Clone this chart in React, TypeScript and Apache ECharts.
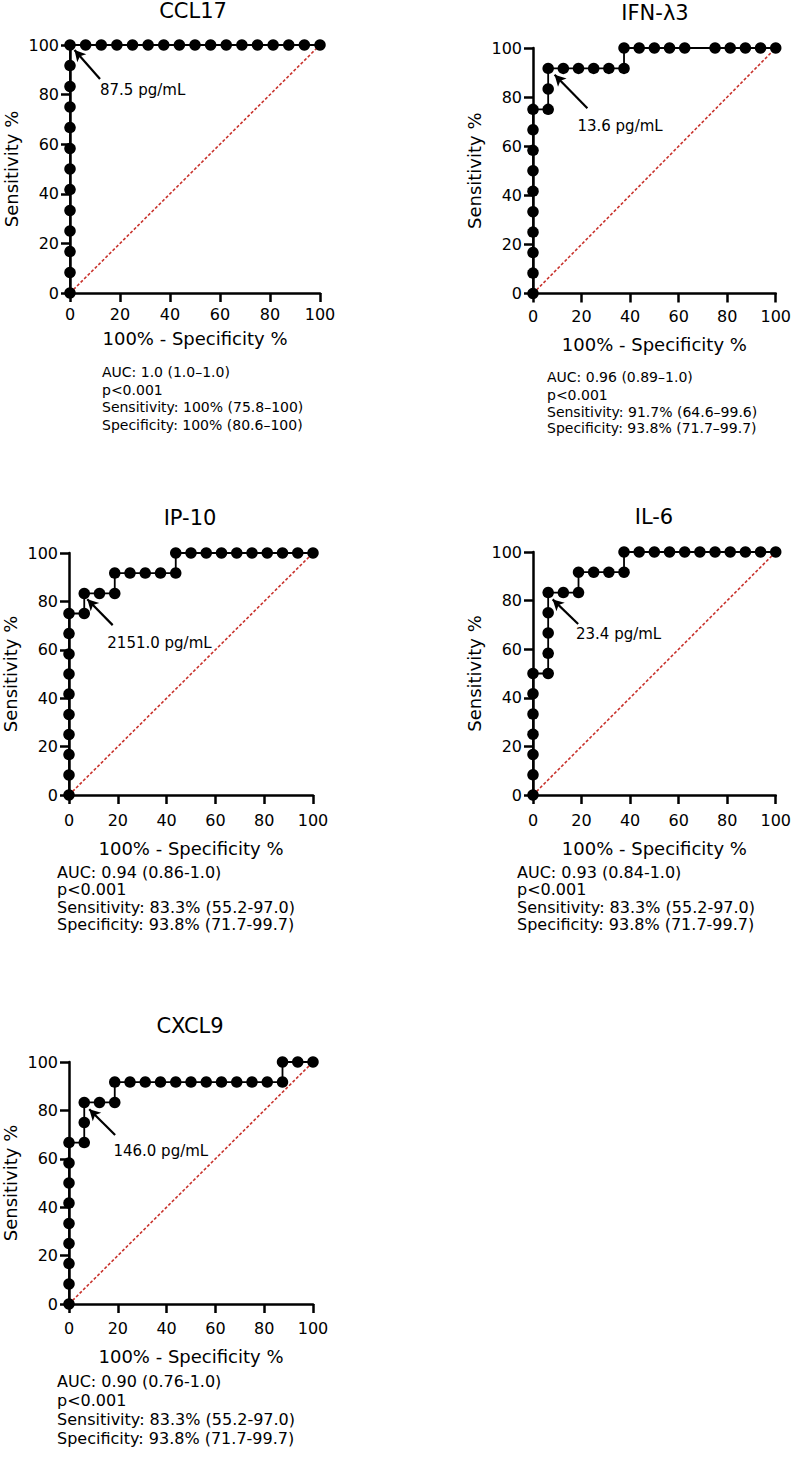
import React, { useEffect, useRef } from "react";
import * as echarts from "echarts";

// ---------- data ----------
const panelTitles = ["CCL17", "IFN-λ3", "IP-10", "IL-6", "CXCL9"];
const cutoffLabels = ["87.5 pg/mL", "13.6 pg/mL", "2151.0 pg/mL", "23.4 pg/mL", "146.0 pg/mL"];

const ccl17Fpr = [0, 0, 0, 0, 0, 0, 0, 0, 0, 0, 0, 0, 0, 6.25, 12.5, 18.75, 25, 31.25, 37.5, 43.75, 50, 56.25, 62.5, 68.75, 75, 81.25, 87.5, 93.75, 100];
const ccl17Tpr = [0, 8.3, 16.7, 25, 33.3, 41.7, 50, 58.3, 66.7, 75, 83.3, 91.7, 100, 100, 100, 100, 100, 100, 100, 100, 100, 100, 100, 100, 100, 100, 100, 100, 100];

const ifnFpr = [0, 0, 0, 0, 0, 0, 0, 0, 0, 0, 6.25, 6.25, 6.25, 12.5, 18.75, 25, 31.25, 37.5, 37.5, 43.75, 50, 56.25, 62.5, 75, 81.25, 87.5, 93.75, 100];
const ifnTpr = [0, 8.3, 16.7, 25, 33.3, 41.7, 50, 58.3, 66.7, 75, 75, 83.3, 91.7, 91.7, 91.7, 91.7, 91.7, 91.7, 100, 100, 100, 100, 100, 100, 100, 100, 100, 100];

const ip10Fpr = [0, 0, 0, 0, 0, 0, 0, 0, 0, 0, 6.25, 6.25, 12.5, 18.75, 18.75, 25, 31.25, 37.5, 43.75, 43.75, 50, 56.25, 62.5, 68.75, 75, 81.25, 87.5, 93.75, 100];
const ip10Tpr = [0, 8.3, 16.7, 25, 33.3, 41.7, 50, 58.3, 66.7, 75, 75, 83.3, 83.3, 83.3, 91.7, 91.7, 91.7, 91.7, 91.7, 100, 100, 100, 100, 100, 100, 100, 100, 100, 100];

const il6Fpr = [0, 0, 0, 0, 0, 0, 0, 6.25, 6.25, 6.25, 6.25, 6.25, 12.5, 18.75, 18.75, 25, 31.25, 37.5, 37.5, 43.75, 50, 56.25, 62.5, 68.75, 75, 81.25, 87.5, 93.75, 100];
const il6Tpr = [0, 8.3, 16.7, 25, 33.3, 41.7, 50, 50, 58.3, 66.7, 75, 83.3, 83.3, 83.3, 91.7, 91.7, 91.7, 91.7, 100, 100, 100, 100, 100, 100, 100, 100, 100, 100, 100];

const cxcl9Fpr = [0, 0, 0, 0, 0, 0, 0, 0, 0, 6.25, 6.25, 6.25, 12.5, 18.75, 18.75, 25, 31.25, 37.5, 43.75, 50, 56.25, 62.5, 68.75, 75, 81.25, 87.5, 87.5, 93.75, 100];
const cxcl9Tpr = [0, 8.3, 16.7, 25, 33.3, 41.7, 50, 58.3, 66.7, 66.7, 75, 83.3, 83.3, 83.3, 91.7, 91.7, 91.7, 91.7, 91.7, 91.7, 91.7, 91.7, 91.7, 91.7, 91.7, 91.7, 100, 100, 100];

const fprSets = [ccl17Fpr, ifnFpr, ip10Fpr, il6Fpr, cxcl9Fpr];
const tprSets = [ccl17Tpr, ifnTpr, ip10Tpr, il6Tpr, cxcl9Tpr];

// annotation anchors in data units (x = 100% - specificity, y = sensitivity)
const arrowTails = [[12, 86.3], [22.4, 75.5], [17.9, 70.2], [18.6, 70.4], [18.9, 69.8]];
const arrowTips = [[1.8, 98.0], [8.9, 89.1], [7.5, 80.9], [8.1, 80.5], [8.3, 80.5]];
const labelAnchors = [[12, 81.9], [18.3, 68.3], [15.7, 62.9], [17.7, 66.3], [18.2, 63.3]];

const statsLines = [
  ["AUC: 1.0 (1.0–1.0)", "p<0.001", "Sensitivity: 100% (75.8–100)", "Specificity: 100% (80.6–100)"],
  ["AUC: 0.96 (0.89–1.0)", "p<0.001", "Sensitivity: 91.7% (64.6–99.6)", "Specificity: 93.8% (71.7–99.7)"],
  ["AUC: 0.94 (0.86-1.0)", "p<0.001", "Sensitivity: 83.3% (55.2-97.0)", "Specificity: 93.8% (71.7-99.7)"],
  ["AUC: 0.93 (0.84-1.0)", "p<0.001", "Sensitivity: 83.3% (55.2-97.0)", "Specificity: 93.8% (71.7-99.7)"],
  ["AUC: 0.90 (0.76-1.0)", "p<0.001", "Sensitivity: 83.3% (55.2-97.0)", "Specificity: 93.8% (71.7-99.7)"],
];

const xAxisTitle = "100% - Specificity %";
const yAxisTitle = "Sensitivity %";

// ---------- layout ----------
const layout = [
  { left: 70, top: 45, width: 250, height: 248, titleX: 193, titleY: 11, lblMargin: 13, nameGap: 36, statsX: 102, statsY: [372, 389.5, 407, 424.5], statsSize: 14, statsLH: 16 },
  { left: 533, top: 48, width: 247, height: 245.5, titleX: 655, titleY: 13, lblMargin: 15, nameGap: 42, statsX: 547, statsY: [377, 394.5, 411.5, 428], statsSize: 14, statsLH: 16 },
  { left: 69, top: 553, width: 244, height: 242, titleX: 190, titleY: 518, lblMargin: 17, nameGap: 44, statsX: 57, statsY: [872, 889.5, 907, 924.5], statsSize: 16, statsLH: 17 },
  { left: 533, top: 552, width: 243, height: 243, titleX: 654, titleY: 517, lblMargin: 17, nameGap: 44, statsX: 517, statsY: [872, 889.5, 907, 924.5], statsSize: 16, statsLH: 17 },
  { left: 69, top: 1062, width: 244, height: 242, titleX: 190, titleY: 1026, lblMargin: 16, nameGap: 43, statsX: 57, statsY: [1381, 1400, 1419, 1438], statsSize: 16, statsLH: 18 },
];

const FONT = "DejaVu Sans";

function buildOption() {
  const grid: any[] = [];
  const xAxis: any[] = [];
  const yAxis: any[] = [];
  const series: any[] = [];
  const graphic: any[] = [];

  layout.forEach((L, i) => {
    grid.push({ left: L.left, top: L.top, width: L.width, height: L.height, containLabel: false });
    const axisCommon = {
      type: "value",
      min: 0,
      max: 100,
      interval: 20,
      gridIndex: i,
      splitLine: { show: false },
      axisLine: { show: true, onZero: false, lineStyle: { color: "#000", width: 2.5 } },
      axisTick: { show: true, inside: false, length: 9, lineStyle: { color: "#000", width: 2.5 } },
      nameLocation: "middle",
      nameTextStyle: { color: "#000", fontFamily: FONT, fontSize: 18 },
    };
    xAxis.push({
      ...axisCommon,
      position: "bottom",
      name: xAxisTitle,
      nameGap: L.nameGap,
      axisLabel: { color: "#000", fontFamily: FONT, fontSize: 16, margin: L.lblMargin },
    });
    yAxis.push({
      ...axisCommon,
      position: "left",
      name: yAxisTitle,
      nameGap: 50,
      nameRotate: 90,
      axisLabel: { color: "#000", fontFamily: FONT, fontSize: 16, margin: 11 },
    });

    // chance diagonal
    series.push({
      type: "line",
      xAxisIndex: i,
      yAxisIndex: i,
      data: [[0, 0], [100, 100]],
      showSymbol: false,
      clip: false,
      silent: true,
      lineStyle: { color: "#c8322c", width: 1.6, type: [3, 2] },
      z: 2,
    });

    // ROC curve
    const pts = fprSets[i].map((x, k) => [x, tprSets[i][k]]);
    series.push({
      type: "line",
      xAxisIndex: i,
      yAxisIndex: i,
      data: pts,
      symbol: "circle",
      symbolSize: 11.5,
      showAllSymbol: true,
      clip: false,
      itemStyle: { color: "#000" },
      lineStyle: { color: "#000", width: 1.8 },
      z: 3,
      markLine: {
        silent: true,
        symbol: ["none", "arrow"],
        symbolSize: [9, 11],
        label: { show: false },
        lineStyle: { color: "#000", width: 2.2, type: "solid" },
        data: [[{ coord: arrowTails[i] }, { coord: arrowTips[i] }]],
      },
      markPoint: {
        silent: true,
        symbol: "circle",
        symbolSize: 0,
        label: {
          show: true,
          position: "right",
          distance: 0,
          color: "#000",
          fontFamily: FONT,
          fontSize: 15,
          formatter: "{b}",
        },
        data: [{ name: cutoffLabels[i], coord: labelAnchors[i] }],
      },
    });

    // panel title
    graphic.push({
      type: "text",
      x: L.titleX,
      y: L.titleY,
      style: {
        text: panelTitles[i],
        fill: "#000",
        font: `21px "${FONT}"`,
        align: "center",
        verticalAlign: "middle",
      },
    });
    // stats block
    statsLines[i].forEach((line, r) => {
      graphic.push({
        type: "text",
        x: L.statsX,
        y: L.statsY[r],
        style: {
          text: line,
          fill: "#000",
          fontFamily: FONT,
          fontSize: L.statsSize,
          lineHeight: L.statsLH,
          align: "left",
          verticalAlign: "middle",
        },
      });
    });
  });

  return {
    animation: false,
    backgroundColor: "#fff",
    grid,
    xAxis,
    yAxis,
    series,
    graphic,
  };
}

export default function App() {
  const ref = useRef<HTMLDivElement>(null);
  useEffect(() => {
    document.body.style.margin = "0";
    if (!ref.current) return;
    const chart = echarts.init(ref.current, undefined, { renderer: "svg" });
    chart.setOption(buildOption());
    return () => chart.dispose();
  }, []);
  return <div ref={ref} style={{ width: 794, height: 1460 }} />;
}
